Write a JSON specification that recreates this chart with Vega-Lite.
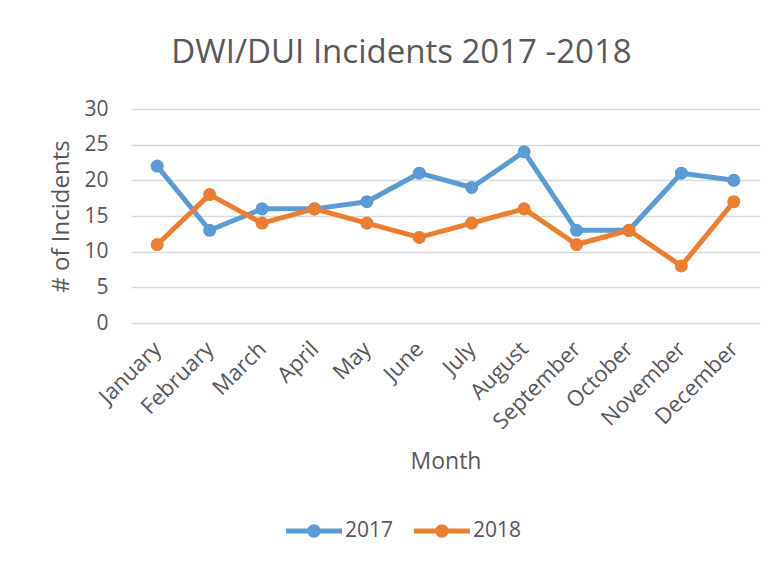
{
  "$schema": "https://vega.github.io/schema/vega-lite/v6.json",
  "width": 629,
  "height": 214,
  "autosize": {"type": "none"},
  "padding": {"left": 131, "top": 109, "right": 18, "bottom": 240},
  "background": "white",
  "title": {
    "text": "DWI/DUI Incidents 2017 -2018",
    "font": "Open Sans",
    "fontSize": 33,
    "fontWeight": "normal",
    "color": "#595959",
    "anchor": "middle",
    "frame": "group",
    "dx": -44,
    "offset": 28
  },
  "data": {
    "values": [
      {"Month": "January", "Year": "2017", "Incidents": 22},
      {"Month": "February", "Year": "2017", "Incidents": 13},
      {"Month": "March", "Year": "2017", "Incidents": 16},
      {"Month": "April", "Year": "2017", "Incidents": 16},
      {"Month": "May", "Year": "2017", "Incidents": 17},
      {"Month": "June", "Year": "2017", "Incidents": 21},
      {"Month": "July", "Year": "2017", "Incidents": 19},
      {"Month": "August", "Year": "2017", "Incidents": 24},
      {"Month": "September", "Year": "2017", "Incidents": 13},
      {"Month": "October", "Year": "2017", "Incidents": 13},
      {"Month": "November", "Year": "2017", "Incidents": 21},
      {"Month": "December", "Year": "2017", "Incidents": 20},
      {"Month": "January", "Year": "2018", "Incidents": 11},
      {"Month": "February", "Year": "2018", "Incidents": 18},
      {"Month": "March", "Year": "2018", "Incidents": 14},
      {"Month": "April", "Year": "2018", "Incidents": 16},
      {"Month": "May", "Year": "2018", "Incidents": 14},
      {"Month": "June", "Year": "2018", "Incidents": 12},
      {"Month": "July", "Year": "2018", "Incidents": 14},
      {"Month": "August", "Year": "2018", "Incidents": 16},
      {"Month": "September", "Year": "2018", "Incidents": 11},
      {"Month": "October", "Year": "2018", "Incidents": 13},
      {"Month": "November", "Year": "2018", "Incidents": 8},
      {"Month": "December", "Year": "2018", "Incidents": 17}
    ]
  },
  "mark": {
    "type": "line",
    "strokeWidth": 5,
    "strokeCap": "round",
    "strokeJoin": "round",
    "point": {"filled": true, "size": 170, "opacity": 1}
  },
  "encoding": {
    "x": {
      "field": "Month",
      "type": "ordinal",
      "sort": null,
      "axis": {
        "title": "Month",
        "titleFont": "Open Sans",
        "titleFontSize": 23,
        "titleFontWeight": "normal",
        "titleColor": "#595959",
        "titlePadding": 18,
        "labelFont": "Open Sans",
        "labelFontSize": 22,
        "labelColor": "#595959",
        "labelAngle": -45,
        "labelAlign": "right",
        "labelBaseline": "middle",
        "labelPadding": 22,
        "ticks": false,
        "tickSize": 0,
        "domain": false,
        "grid": false
      }
    },
    "y": {
      "field": "Incidents",
      "type": "quantitative",
      "scale": {"domain": [0, 30], "nice": false},
      "axis": {
        "title": "# of Incidents",
        "titleFont": "Open Sans",
        "titleFontSize": 24,
        "titleFontWeight": "normal",
        "titleColor": "#595959",
        "titlePadding": 10,
        "values": [0, 5, 10, 15, 20, 25, 30],
        "labelFont": "Open Sans",
        "labelFontSize": 21,
        "labelColor": "#595959",
        "labelPadding": 23,
        "ticks": false,
        "tickSize": 0,
        "domain": false,
        "grid": true,
        "gridColor": "#D9D9D9",
        "gridWidth": 1.5
      }
    },
    "color": {
      "field": "Year",
      "type": "nominal",
      "scale": {"domain": ["2017", "2018"], "range": ["#5B9BD5", "#ED7D31"]},
      "legend": {
        "title": null,
        "orient": "none",
        "direction": "horizontal",
        "legendX": 155,
        "legendY": 394,
        "symbolType": "M-1,-0.09L1,-0.09L1,0.09L-1,0.09Z M0.24,0 A0.24,0.24 0 1 1 -0.24,0 A0.24,0.24 0 1 1 0.24,0Z",
        "symbolSize": 3136,
        "symbolStrokeWidth": 0,
        "labelFont": "Open Sans",
        "labelFontSize": 21,
        "labelColor": "#595959",
        "labelOffset": 3,
        "columnPadding": 20,
        "encode": {
          "symbols": {
            "update": {
              "fill": {"scale": "color", "field": "value"},
              "fillOpacity": {"value": 1},
              "strokeWidth": {"value": 0}
            }
          }
        }
      }
    }
  },
  "config": {
    "view": {"stroke": null}
  }
}
